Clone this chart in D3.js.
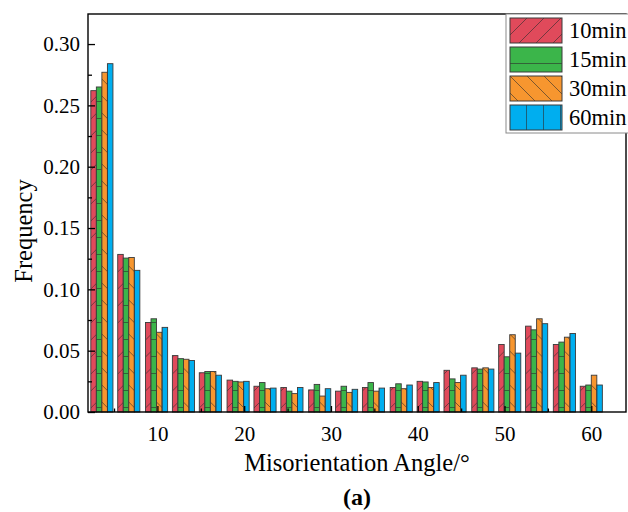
<!DOCTYPE html>
<html>
<head>
<meta charset="utf-8">
<script src="https://cdn.jsdelivr.net/npm/d3@7"></script>
<style>
  html, body { margin: 0; padding: 0; background: #fff; }
  svg { display: block; font-family: "Liberation Serif", "Times New Roman", serif; }
</style>
</head>
<body>
<div id="chart"></div>
<script>
// bin centres (degrees) and frequencies
const binCenters = [3.6, 6.7, 9.9, 13.0, 16.1, 19.3, 22.4, 25.5, 28.7, 31.8,
                    34.9, 38.1, 41.2, 44.3, 47.5, 50.6, 53.7, 56.9, 60.0];
const seriesNames = ["10min", "15min", "30min", "60min"];
const freq10 = [0.262, 0.1285, 0.073, 0.046, 0.032, 0.026, 0.021, 0.020, 0.018, 0.017,
                0.020, 0.020, 0.025, 0.034, 0.036, 0.055, 0.070, 0.055, 0.021];
const freq15 = [0.265, 0.1255, 0.076, 0.0435, 0.033, 0.025, 0.024, 0.017, 0.0225, 0.021,
                0.024, 0.023, 0.0245, 0.027, 0.035, 0.045, 0.067, 0.057, 0.022];
const freq30 = [0.277, 0.126, 0.065, 0.043, 0.033, 0.0245, 0.019, 0.015, 0.013, 0.016,
                0.017, 0.019, 0.020, 0.024, 0.036, 0.063, 0.076, 0.061, 0.030];
const freq60 = [0.284, 0.1155, 0.069, 0.042, 0.030, 0.025, 0.0195, 0.020, 0.019, 0.0185,
                0.0195, 0.022, 0.024, 0.030, 0.035, 0.048, 0.072, 0.064, 0.022];
const xTicks = [10, 20, 30, 40, 50, 60];
const yTicks = [0, 0.05, 0.10, 0.15, 0.20, 0.25, 0.30];

const width = 628, height = 512;
const margin = {top: 14, right: 2, bottom: 100, left: 88};

const colors = {"10min": "#e04a5b", "15min": "#3bb54a", "30min": "#f7962f", "60min": "#00aeef"};
const values = {"10min": freq10, "15min": freq15, "30min": freq30, "60min": freq60};

const rows = binCenters.map((c, i) => {
  const r = {center: c};
  seriesNames.forEach(k => r[k] = values[k][i]);
  return r;
});

const svg = d3.select("#chart").append("svg")
    .attr("width", width)
    .attr("height", height);

const x = d3.scaleLinear()
    .domain([2, 64])
    .range([margin.left, width - margin.right]);

const y = d3.scaleLinear()
    .domain([0, 0.3245])
    .range([height - margin.bottom - 0, margin.top]);

const groupW = x(2.55) - x(0);
const sub = d3.scaleBand()
    .domain(seriesNames)
    .range([0, groupW]);

// hatch patterns
const defs = svg.append("defs");
const step = 17;
const hatch = {
  "10min": `M0,${step} L${step},0 M-2,2 L2,-2 M${step - 2},${step + 2} L${step + 2},${step - 2}`,
  "15min": `M0,${step - 0.5} L${step},${step - 0.5}`,
  "30min": `M0,0 L${step},${step} M-2,${step - 2} L2,${step + 2} M${step - 2},-2 L${step + 2},2`,
  "60min": `M${step - 0.5},0 L${step - 0.5},${step}`
};
seriesNames.forEach((k, i) => {
  const p = defs.append("pattern")
      .attr("id", "pat" + i)
      .attr("patternUnits", "userSpaceOnUse")
      .attr("width", step)
      .attr("height", step);
  p.append("rect").attr("width", step).attr("height", step).attr("fill", colors[k]);
  p.append("path")
      .attr("d", hatch[k])
      .attr("stroke", "#2b2b2b")
      .attr("stroke-opacity", 0.75)
      .attr("stroke-width", 0.8)
      .attr("fill", "none");
});

// bars
svg.append("g")
  .selectAll("g")
  .data(rows)
  .join("g")
    .attr("transform", d => `translate(${x(d.center) - groupW / 2},0)`)
  .selectAll("rect")
  .data(d => seriesNames.map((k, i) => ({key: k, idx: i, value: d[k]})))
  .join("rect")
    .attr("x", d => sub(d.key))
    .attr("y", d => y(d.value))
    .attr("width", sub.bandwidth())
    .attr("height", d => y(0) - y(d.value))
    .attr("fill", d => `url(#pat${d.idx})`)
    .attr("stroke", "#3a3a3a")
    .attr("stroke-width", 0.9);

// x axis
const xAxis = g => g
    .attr("transform", `translate(0,${y(0)})`)
    .call(d3.axisBottom(x).tickValues(xTicks).tickSize(-6).tickPadding(14).tickFormat(d3.format("d")))
    .call(g => g.select(".domain").remove())
    .call(g => g.selectAll("text").attr("font-size", 21).attr("fill", "#000").attr("font-family", "Liberation Serif"))
    .call(g => g.selectAll("line").attr("stroke", "#000").attr("stroke-width", 1.3));

const xMinor = g => g
    .attr("transform", `translate(0,${y(0)})`)
    .call(d3.axisBottom(x).tickValues([5, 15, 25, 35, 45, 55]).tickSize(-3.5).tickFormat(""))
    .call(g => g.select(".domain").remove())
    .call(g => g.selectAll("line").attr("stroke", "#000").attr("stroke-width", 1.3));

// y axis
const yAxis = g => g
    .attr("transform", `translate(${margin.left},0)`)
    .call(d3.axisLeft(y).tickValues(yTicks).tickSize(-7).tickPadding(8).tickFormat(d3.format(".2f")))
    .call(g => g.select(".domain").remove())
    .call(g => g.selectAll("text").attr("font-size", 21).attr("fill", "#000").attr("font-family", "Liberation Serif"))
    .call(g => g.selectAll("line").attr("stroke", "#000").attr("stroke-width", 1.3));

const yMinor = g => g
    .attr("transform", `translate(${margin.left},0)`)
    .call(d3.axisLeft(y).tickValues([0.025, 0.075, 0.125, 0.175, 0.225, 0.275]).tickSize(-4).tickFormat(""))
    .call(g => g.select(".domain").remove())
    .call(g => g.selectAll("line").attr("stroke", "#000").attr("stroke-width", 1.3));

svg.append("g").call(xAxis);
svg.append("g").call(xMinor);
svg.append("g").call(yAxis);
svg.append("g").call(yMinor);

// frame
svg.append("rect")
    .attr("x", margin.left)
    .attr("y", margin.top)
    .attr("width", width - margin.right - margin.left)
    .attr("height", y(0) - margin.top)
    .attr("fill", "none")
    .attr("stroke", "#000")
    .attr("stroke-width", 1.4);

// axis titles
svg.append("text")
    .attr("x", (margin.left + width - margin.right) / 2)
    .attr("y", 471)
    .attr("text-anchor", "middle")
    .attr("font-size", 24.5)
    .text("Misorientation Angle/°");

svg.append("text")
    .attr("x", 357)
    .attr("y", 505)
    .attr("text-anchor", "middle")
    .attr("font-size", 24)
    .attr("font-weight", "bold")
    .text("(a)");

svg.append("text")
    .attr("transform", `translate(32,231) rotate(-90)`)
    .attr("text-anchor", "middle")
    .attr("font-size", 24.5)
    .text("Frequency");

// legend
const legend = svg.append("g").attr("transform", "translate(506,14)");
legend.append("rect")
    .attr("width", 124)
    .attr("height", 119)
    .attr("fill", "#fff")
    .attr("stroke", "#8a8a8a")
    .attr("stroke-width", 1);

const items = legend.selectAll("g.item")
  .data(seriesNames)
  .join("g")
    .attr("class", "item")
    .attr("transform", (d, i) => `translate(4,${4 + i * 29})`);

items.append("rect")
    .attr("width", 52)
    .attr("height", 25)
    .attr("fill", (d, i) => `url(#pat${i})`)
    .attr("stroke", "#3a3a3a")
    .attr("stroke-width", 1);

items.append("text")
    .attr("x", 59)
    .attr("y", 20)
    .attr("font-size", 22.5)
    .text(d => d);
</script>
</body>
</html>
